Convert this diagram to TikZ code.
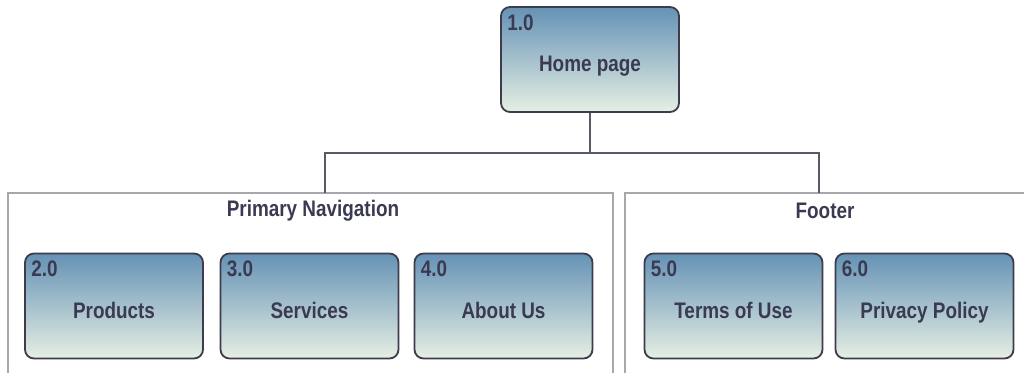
\documentclass[tikz,border=0pt]{standalone}
\usepackage{fontspec}
\setmainfont[FakeStretch=0.85]{Liberation Sans}
\newfontfamily\labfont[FakeStretch=0.84]{Liberation Sans}
\definecolor{txt}{HTML}{3A3A52}
\definecolor{edge}{HTML}{3C3C4C}
\definecolor{topc}{HTML}{6592B6}
\definecolor{botc}{HTML}{E6EFE3}
\definecolor{grp}{HTML}{A8A8AC}
\definecolor{conn}{HTML}{5A5A66}
\tikzset{
  page/.style={draw=edge, line width=1.8pt, rounded corners=9pt,
    top color=topc, bottom color=botc, minimum width=178pt, minimum height=105pt,
    inner sep=0pt, text height=24pt, text depth=0pt,
    font=\labfont\bfseries\fontsize{22.5}{24}\selectfont, text=txt},
  num/.style={anchor=north west, inner sep=0pt, xshift=7pt, yshift=-8pt,
    font=\labfont\bfseries\fontsize{22.5}{24}\selectfont, text=txt},
  grpbox/.style={draw=grp, line width=1.5pt},
  grplabel/.style={font=\labfont\bfseries\fontsize{22.5}{24}\selectfont, text=txt, inner sep=0pt},
  conline/.style={draw=conn, line width=1.2pt}
}
\begin{document}
\begin{tikzpicture}[x=1pt,y=-1pt]
\useasboundingbox (0,0) rectangle (1024,372);
\clip (0,0) rectangle (1024,372);
% group boxes
\draw[grpbox] (8,400) -- (8,193) -- (613,193) -- (613,400);
\draw[grpbox] (625,400) -- (625,193) -- (1040,193);
\node[grplabel] (gprim) at (313,211) {Primary Navigation};
\node[grplabel] (gfoot) at (825,211) {Footer};
\coordinate (gprimtop) at (325,193);
\coordinate (gfoottop) at (819,193);
% pages
\node[page, label={[num]north west:1.0}] (home) at (590,59.5) {Home page};
\node[page, label={[num]north west:2.0}] (prod) at (114,306) {Products};
\node[page, label={[num]north west:3.0}] (serv) at (309.5,306) {Services};
\node[page, label={[num]north west:4.0}] (about) at (503.5,306) {About Us};
\node[page, label={[num]north west:5.0}] (terms) at (733.5,306) {Terms of Use};
\node[page, label={[num]north west:6.0}] (priv) at (924.5,306) {Privacy Policy};
% connectors
\coordinate (hub) at (590,153);
\draw[conline] (home.south) -- (hub);
\draw[conline] (gprimtop) -- (325,153) -- (819,153) -- (gfoottop);
\end{tikzpicture}
\end{document}
